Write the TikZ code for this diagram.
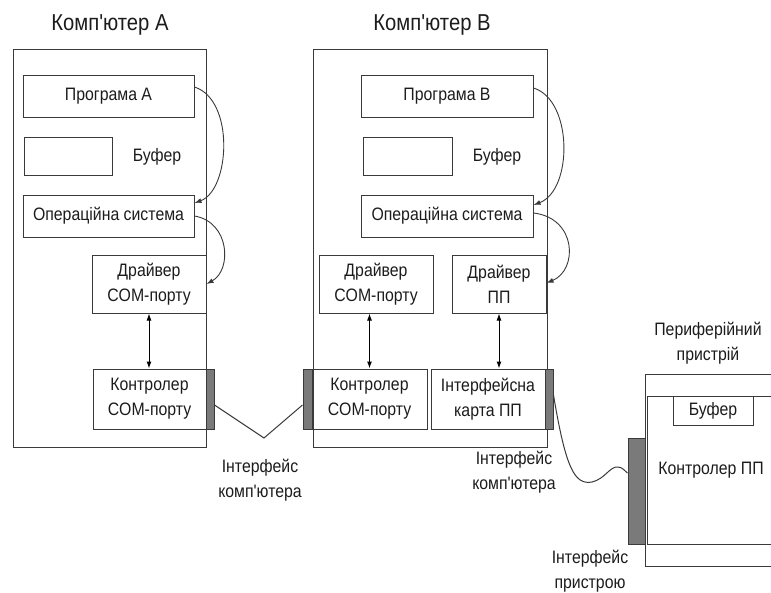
\documentclass[tikz,border=0pt]{standalone}
\usepackage{fontspec}
\setmainfont[FakeStretch=0.88, Ligatures=TeXOff]{Liberation Sans}
\usetikzlibrary{arrows.meta}
\definecolor{linec}{HTML}{3A3A3A}
\definecolor{txtc}{HTML}{1C1C1C}
\definecolor{stripc}{HTML}{7A7A7A}
\tikzset{
  box/.style={draw=linec, line width=1pt, inner sep=0pt, align=center,
    text=txtc, font=\fontsize{18}{25}\selectfont},
  frame/.style={draw=linec, line width=1pt, inner sep=0pt},
  strip/.style={draw=linec, fill=stripc, line width=1pt, inner sep=0pt},
  lbl/.style={inner sep=0pt, align=center, text=txtc,
    font=\fontsize{18}{25}\selectfont},
  title/.style={inner sep=0pt, text=txtc, font=\fontsize{23}{28}\selectfont},
  wire/.style={draw=linec, line width=1pt},
  flow/.style={draw=linec, line width=0.9pt, -{Latex[length=7pt,width=5pt]}},
  both/.style={draw=black, line width=1pt, {Latex[length=7pt,width=5pt]}-{Latex[length=7pt,width=5pt]}},
}
\begin{document}
\begin{tikzpicture}[x=1pt, y=-1pt]
\useasboundingbox (0,0) rectangle (771,592);
\clip (0,0) rectangle (771,592);

% ---------------- Computer A ----------------
\node[title] (tA) at (110,25) {Комп'ютер А};
\node[frame, minimum width=193pt, minimum height=398pt] (compA) at (109.5,248) {};
\node[box, minimum width=171pt, minimum height=42pt] (progA) at (108.5,96) {Програма А};
\node[box, minimum width=88pt, minimum height=38pt] (bufA) at (68,156) {};
\node[lbl] (bufAl) at (157,157) {Буфер};
\node[box, minimum width=171pt, minimum height=42pt] (osA) at (108.5,216) {Операційна система};
\node[box, minimum width=114pt, minimum height=58pt] (drvA) at (149,284) {Драйвер\\COM-порту};
\node[box, minimum width=113pt, minimum height=60pt] (ctlA) at (149.5,399) {Контролер\\COM-порту};
\node[strip, minimum width=8pt, minimum height=60pt] (stA) at (210,399) {};

\draw[both] (drvA.south) -- (drvA.south |- ctlA.north);
\draw[flow] ([yshift=9pt]progA.east) .. controls (235,100) and (230,190) .. ([yshift=13pt]osA.east);
\draw[flow] (osA.east) .. controls (230,222) and (232,270) .. (drvA.east);

% ---------------- Computer B ----------------
\node[title] (tB) at (432,25) {Комп'ютер В};
\node[frame, minimum width=234pt, minimum height=398pt] (compB) at (430,248) {};
\node[box, minimum width=172pt, minimum height=42pt] (progB) at (447,96) {Програма В};
\node[box, minimum width=89pt, minimum height=38pt] (bufB) at (407.5,156) {};
\node[lbl] (bufBl) at (497,157) {Буфер};
\node[box, minimum width=172pt, minimum height=42pt] (osB) at (447,216) {Операційна система};
\node[box, minimum width=114pt, minimum height=58pt] (drvcB) at (376,284) {Драйвер\\COM-порту};
\node[box, minimum width=94pt, minimum height=58pt] (drvpB) at (499,284) {Драйвер\\ПП};
\node[box, minimum width=115pt, minimum height=60pt] (ctlB) at (369.5,399) {Контролер\\COM-порту};
\node[box, minimum width=114pt, minimum height=60pt] (cardB) at (488,399) {Інтерфейсна\\карта ПП};
\node[strip, minimum width=9pt, minimum height=60pt] (stB1) at (307.5,399) {};
\node[strip, minimum width=8pt, minimum height=60pt] (stB2) at (549,399) {};

\draw[both] (ctlB.north |- drvcB.south) -- (ctlB.north);
\draw[both] (drvpB.south) -- (drvpB.south |- cardB.north);
\draw[flow] ([yshift=8pt]progB.east) .. controls (573,100) and (573,190) .. ([yshift=11pt]osB.east);
\draw[flow] ([yshift=3pt]osB.east) .. controls (577,218) and (578,270) .. ([yshift=1pt]drvpB.east);

% ---------------- Peripheral device ----------------
\node[lbl] (perl) at (708,343) {Периферійний\\пристрій};
\node[frame, minimum width=150pt, minimum height=192pt, anchor=north west] (perO) at (645,374) {};
\node[frame, minimum width=148pt, minimum height=148pt, anchor=north west] (perI) at (647,396) {};
\node[box, minimum width=80pt, minimum height=29pt] (bufP) at (713,410.5) {Буфер};
\node[lbl] (ctlP) at (711,470) {Контролер ПП};
\node[strip, minimum width=17pt, minimum height=106pt] (stP) at (636.5,491) {};

% ---------------- Interface cables ----------------
\coordinate (vA) at (264,438);
\draw[wire] ([yshift=-6pt]stA.east) -- (vA) -- ([yshift=-6pt]stB1.west);
\coordinate (lowB) at (592,482);
\coordinate (bumpB) at (618,467);
\draw[wire] ([yshift=4pt]stB2.east) .. controls (566,470) and (575,485) .. (lowB)
  .. controls (605,479) and (610,466) .. (bumpB)
  .. controls (622,467) and (625,471) .. ([yshift=18pt]stP.west);

% ---------------- Interface labels ----------------
\node[lbl] (ifA) at (260,480) {Інтерфейс\\комп'ютера};
\node[lbl] (ifB) at (514,472) {Інтерфейс\\комп'ютера};
\node[lbl] (ifP) at (590,571) {Інтерфейс\\пристрою};
\end{tikzpicture}
\end{document}
